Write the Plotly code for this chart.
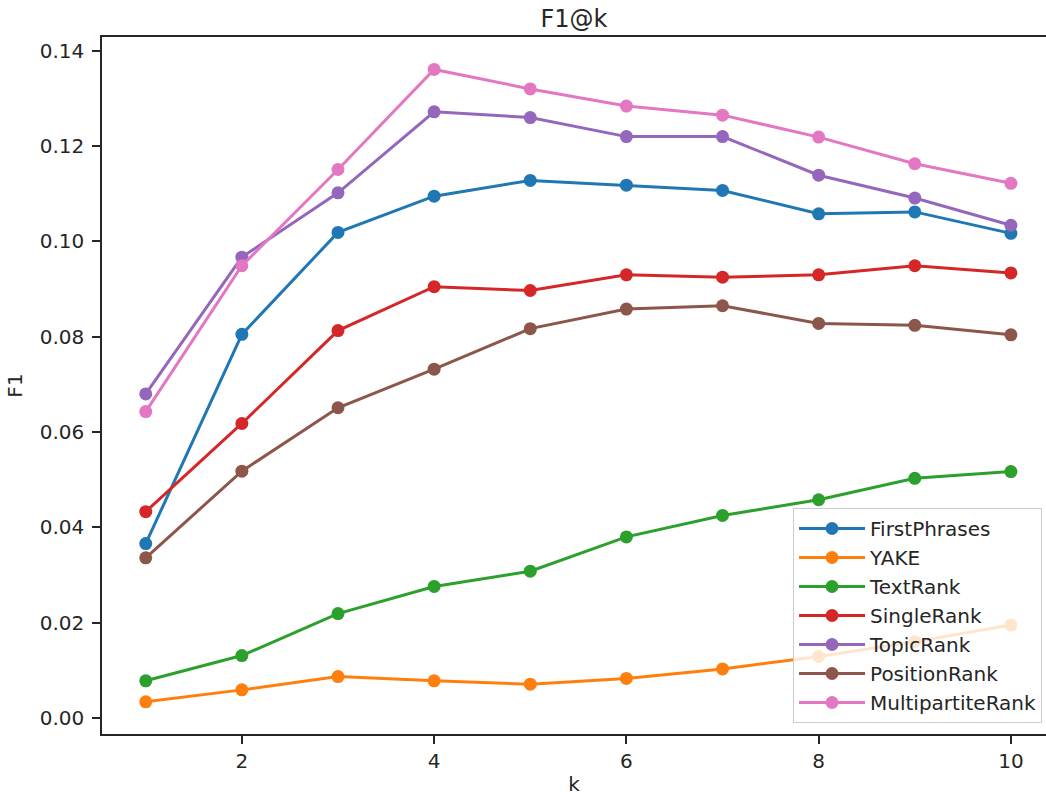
import plotly.graph_objects as go

# k values on the x axis
k_values = [1, 2, 3, 4, 5, 6, 7, 8, 9, 10]

# F1@k for each keyphrase extraction method
first_phrases = [0.0366, 0.0805, 0.1019, 0.1095, 0.1128, 0.1118, 0.1107, 0.1058, 0.1062, 0.1017]
yake = [0.0034, 0.0059, 0.0087, 0.0078, 0.0071, 0.0083, 0.0103, 0.0129, 0.0160, 0.0195]
text_rank = [0.0078, 0.0131, 0.0219, 0.0276, 0.0308, 0.0380, 0.0425, 0.0458, 0.0503, 0.0517]
single_rank = [0.0433, 0.0618, 0.0813, 0.0905, 0.0897, 0.0930, 0.0925, 0.0930, 0.0949, 0.0934]
topic_rank = [0.0680, 0.0967, 0.1102, 0.1272, 0.1260, 0.1220, 0.1220, 0.1139, 0.1091, 0.1034]
position_rank = [0.0336, 0.0518, 0.0651, 0.0732, 0.0817, 0.0858, 0.0865, 0.0828, 0.0824, 0.0804]
multipartite_rank = [0.0643, 0.0949, 0.1151, 0.1361, 0.1320, 0.1284, 0.1265, 0.1219, 0.1163, 0.1122]

series = [
    ("FirstPhrases", first_phrases, "#1f77b4"),
    ("YAKE", yake, "#ff7f0e"),
    ("TextRank", text_rank, "#2ca02c"),
    ("SingleRank", single_rank, "#d62728"),
    ("TopicRank", topic_rank, "#9467bd"),
    ("PositionRank", position_rank, "#8c564b"),
    ("MultipartiteRank", multipartite_rank, "#e377c2"),
]

y_ticks = [0.00, 0.02, 0.04, 0.06, 0.08, 0.10, 0.12, 0.14]
x_ticks = [2, 4, 6, 8, 10]

FONT = "DejaVu Sans"
TEXT = "#262626"

fig = go.Figure()
for name, values, color in series:
    fig.add_trace(go.Scatter(
        x=k_values, y=values, name=name, mode="lines+markers",
        line=dict(color=color, width=3),
        marker=dict(color=color, size=13),
    ))

fig.update_layout(
    width=1046, height=796,
    margin=dict(l=102, r=0, t=37, b=62),
    paper_bgcolor="white", plot_bgcolor="white",
    font=dict(family=FONT, size=20, color=TEXT),
    title=dict(text="F1@k", x=0.5, xref="paper", xanchor="center",
               y=1 - 19 / 796, yanchor="middle",
               font=dict(family=FONT, size=24, color=TEXT)),
    showlegend=True,
    legend=dict(
        x=0.9958, y=0.0158, xanchor="right", yanchor="bottom",
        bgcolor="rgba(255,255,255,0.8)", bordercolor="#cccccc", borderwidth=1,
        font=dict(family=FONT, size=20, color=TEXT),
        traceorder="normal", itemwidth=66,
    ),
    xaxis=dict(
        range=[0.545, 10.365], tickvals=x_ticks, ticktext=[str(v) for v in x_ticks],
        showgrid=False, zeroline=False, showline=True, mirror=True,
        linecolor="#262626", linewidth=1.5,
        ticks="outside", ticklen=8, tickwidth=1.5, tickcolor="#262626",
        title=dict(text="k", standoff=8, font=dict(family=FONT, size=20, color=TEXT)),
    ),
    yaxis=dict(
        range=[-0.00336, 0.1429], tickvals=y_ticks,
        ticktext=[f"{v:.2f}" for v in y_ticks],
        showgrid=False, zeroline=False, showline=True, mirror=False,
        linecolor="#262626", linewidth=1.5,
        ticks="outside", ticklen=8, tickwidth=1.5, tickcolor="#262626",
        ticklabelstandoff=4,
        title=dict(text="F1", standoff=12, font=dict(family=FONT, size=20, color=TEXT)),
    ),
)

fig.write_html("out.html")
